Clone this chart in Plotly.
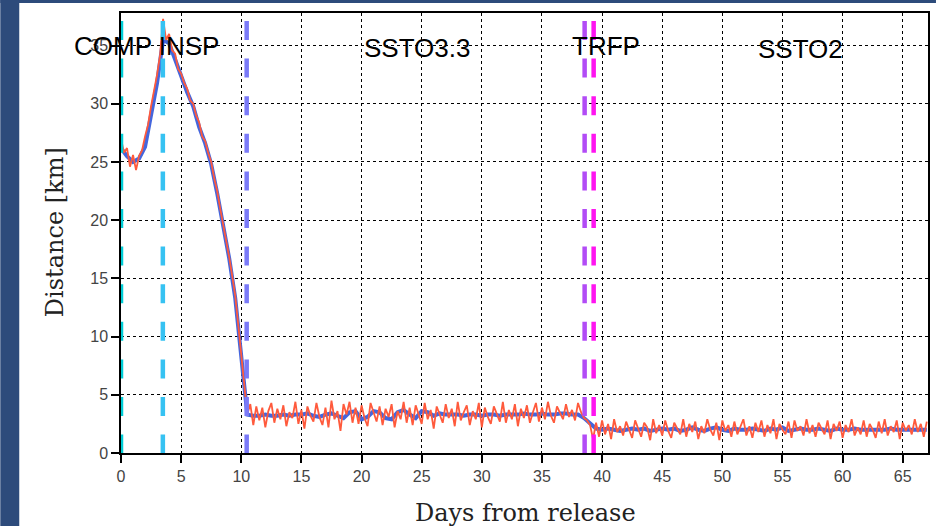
import plotly.graph_objects as go

# ---------------- data ----------------
red_step = 0.25
red_km = [
    # approach / inspection phase (0 .. 10.5)
    27.0, 25.8, 26.2, 24.6, 25.6, 24.3, 25.5, 26.0, 27.2, 28.2, 29.8, 31.0,
    32.5, 34.2, 37.3, 35.5, 36.0, 34.6, 34.3, 33.0, 32.6, 31.8, 31.3, 30.3,
    30.0, 29.0, 28.4, 27.2, 26.8, 25.8, 25.0, 23.6, 22.5, 21.0, 19.7, 18.3,
    16.8, 15.2, 13.5, 11.0, 8.5, 5.5, 3.3,
    # SSTO3.3 (10.75 .. 38.25)
    4.2, 2.4, 4.0, 2.8, 3.9, 2.2, 3.6, 4.3,
    2.6, 3.8, 2.9, 4.1, 2.3, 3.5, 3.0, 4.4,
    2.5, 3.7, 2.1, 4.0, 3.2, 2.7, 4.3, 3.1,
    2.4, 3.9, 2.2, 4.5, 2.9, 3.6, 1.9, 4.2,
    3.3, 4.4, 2.6, 3.9, 2.5, 4.1, 3.0, 2.3,
    4.3, 3.4, 2.7, 4.0, 2.4, 3.8, 3.1, 4.2,
    2.2, 3.6, 2.9, 4.4, 2.6, 3.9, 2.4, 4.1,
    3.2, 2.5, 4.3, 2.9, 3.7, 2.1, 4.0, 3.3,
    2.6, 4.2, 3.0, 3.8, 2.3, 4.4, 2.8, 3.5,
    4.1, 2.4, 3.6, 2.9, 4.3, 2.2, 3.9, 3.1,
    2.5, 4.0, 3.3, 2.7, 4.4, 2.6, 3.7, 2.9,
    4.2, 2.3, 3.8, 3.0, 4.1, 2.6, 3.5, 4.3,
    2.7, 3.9, 2.9, 4.4, 3.2, 2.6, 4.0, 3.4,
    2.9, 4.2, 3.1, 3.7, 2.8, 4.3, 3.5,
    # TRFP transfer (38.5 .. 39.5)
    3.0, 2.8, 2.4, 1.2, 2.6,
    # SSTO2 (39.75 .. 67)
    1.4, 2.8, 1.6, 2.5, 1.2, 2.9, 1.8, 2.3,
    1.5, 2.7, 1.9, 1.3, 2.8, 2.0, 1.4, 2.6,
    2.2, 1.1, 2.9, 1.7, 2.4, 1.5, 2.8, 1.9,
    1.3, 2.6, 2.1, 1.6, 2.9, 1.4, 2.5, 1.8,
    2.7, 1.2, 2.3, 1.7, 2.9, 2.0, 1.5, 2.6,
    1.1, 2.8, 1.9, 2.4, 1.4, 2.7, 1.6, 2.2,
    2.9, 1.5, 2.3, 1.3, 2.6, 1.8, 2.8, 1.4,
    2.4, 1.7, 2.9, 1.2, 2.5, 2.0, 1.6, 2.7,
    1.3, 2.8, 1.9, 2.3, 1.5, 2.9, 1.7, 2.4,
    1.4, 2.6, 2.1, 1.6, 2.8, 1.2, 2.5, 1.9,
    2.7, 1.3, 2.4, 1.8, 2.9, 1.5, 2.2, 1.6,
    2.8, 1.4, 2.5, 2.0, 1.3, 2.7, 1.7, 2.9,
    1.5, 2.3, 1.8, 2.8, 1.2, 2.6, 1.9, 2.4,
    1.6, 2.9, 1.8, 2.5, 1.4, 2.7,
]
red_days = [i * red_step for i in range(len(red_km))]

blue_step = 0.5
blue_km = [
    26.2, 25.5, 25.0, 25.3, 26.3, 29.0, 31.8, 35.5, 35.2, 33.8, 32.3, 31.0,
    29.8, 28.0, 26.6, 24.8, 22.3, 19.6, 16.7, 13.3, 8.5, 3.3,
    3.2, 3.2, 3.3, 3.2, 3.2, 3.3, 3.2, 3.3, 3.3, 3.4, 3.2, 3.1, 3.3, 3.4,
    3.2, 3.0, 3.5, 3.6, 2.9, 3.1, 3.6, 3.5, 3.0, 2.9, 3.5, 3.7, 3.3, 3.0,
    3.6, 3.5, 3.2, 3.4, 3.3, 3.3, 3.3, 3.2, 3.3, 3.3, 3.2, 3.3, 3.3, 3.2,
    3.3, 3.3, 3.3, 3.4, 3.3, 3.3, 3.4, 3.3, 3.3, 3.4, 3.4, 3.3, 3.3,
    3.0, 2.6, 2.1,
    2.0, 2.1, 2.0, 1.9, 2.0, 2.1, 2.0, 2.1, 1.9, 2.0, 2.1, 2.0, 2.1, 1.9,
    2.0, 2.2, 2.0, 1.9, 2.1, 2.2, 2.0, 1.9, 2.1, 2.0, 2.0, 2.1, 2.0, 1.9,
    2.1, 2.0, 2.2, 1.9, 2.0, 2.1, 2.0, 2.0, 2.1, 2.0, 1.9, 2.1, 2.0, 2.0,
    2.1, 2.0, 2.0, 2.0, 2.0, 2.0, 2.1, 2.0, 2.0, 2.0, 2.0, 2.0, 2.0,
]
blue_days = [i * blue_step for i in range(len(blue_km))]

# phase boundaries (days) and their line colours
phase_days = [0.0, 3.48, 10.45, 38.55, 39.3]
phase_colors = ["#00cdd6", "#36c2f2", "#7a7af8", "#b24cf6", "#ff14f0"]

phase_labels = ["COMP INSP", "SSTO3.3", "TRFP", "SSTO2"]
phase_label_px = [147, 418, 607, 802]   # horizontal centres (pixels)
phase_label_py = [44, 46, 44, 47]

x_ticks = list(range(0, 70, 5))
y_ticks = list(range(0, 40, 5))
x_max = 67.1
y_max = 37.8

# ---------------- figure ----------------
W, H = 938, 526
L, R, T, B = 121, 8, 13, 73
pw, ph = W - L - R, H - T - B

def px2paper_x(px):
    return (px - L) / pw

def py2paper_y(py):
    return (H - B - py) / ph

fig = go.Figure()

fig.add_trace(go.Scatter(x=blue_days, y=blue_km, mode="lines",
                         line=dict(color="#4466dd", width=4),
                         showlegend=False, hoverinfo="skip"))
fig.add_trace(go.Scatter(x=red_days, y=red_km, mode="lines",
                         line=dict(color="#ff5a3c", width=1.8),
                         showlegend=False, hoverinfo="skip"))

shapes = []
# slide background strips
bg = "#2d4b7b"
shapes.append(dict(type="rect", xref="paper", yref="paper",
                   x0=px2paper_x(0), x1=px2paper_x(19),
                   y0=py2paper_y(H), y1=py2paper_y(0),
                   fillcolor=bg, line=dict(width=0), layer="below"))
shapes.append(dict(type="rect", xref="paper", yref="paper",
                   x0=px2paper_x(0), x1=px2paper_x(W),
                   y0=py2paper_y(3), y1=py2paper_y(0),
                   fillcolor=bg, line=dict(width=0), layer="below"))

dash_top = (H - B - 21) / ph * y_max
for d, c in zip(phase_days, phase_colors):
    shapes.append(dict(type="line", xref="x", yref="y",
                       x0=d, x1=d, y0=dash_top, y1=0,
                       line=dict(color=c, width=4.5, dash="19px,18.6px"),
                       layer="above"))

annotations = []
for txt, px, py in zip(phase_labels, phase_label_px, phase_label_py):
    annotations.append(dict(text=txt, xref="paper", yref="paper",
                            x=px2paper_x(px), y=py2paper_y(py + 2),
                            xanchor="center", yanchor="middle", showarrow=False,
                            font=dict(family="Liberation Sans", size=26, color="black")))
annotations.append(dict(text="Days from release", xref="paper", yref="paper",
                        x=px2paper_x(527), y=py2paper_y(513),
                        xanchor="center", yanchor="middle", showarrow=False,
                        font=dict(family="DejaVu Serif", size=24, color="#222")))
annotations.append(dict(text="Distance [km]", xref="paper", yref="paper",
                        x=px2paper_x(55), y=py2paper_y(232), textangle=-90,
                        xanchor="center", yanchor="middle", showarrow=False,
                        font=dict(family="DejaVu Serif", size=24, color="#222")))

axis_common = dict(showgrid=True, gridcolor="black", griddash="dot", gridwidth=1,
                   zeroline=False, showline=True, linecolor="black", linewidth=1.5,
                   mirror=True, ticks="outside", ticklen=8, tickcolor="black",
                   tickwidth=1.5,
                   tickfont=dict(family="Liberation Sans", size=16, color="#444"))

fig.update_layout(
    width=W, height=H,
    margin=dict(l=L, r=R, t=T, b=B, pad=0),
    paper_bgcolor="white", plot_bgcolor="white",
    xaxis=dict(range=[0, x_max], tickvals=x_ticks, **axis_common),
    yaxis=dict(range=[0, y_max], tickvals=y_ticks, **axis_common),
    shapes=shapes, annotations=annotations,
)

fig.write_html("out.html",
               config={"displayModeBar": False},
               post_script="document.body.style.margin='0px';"
                           "document.body.style.overflow='hidden';")
